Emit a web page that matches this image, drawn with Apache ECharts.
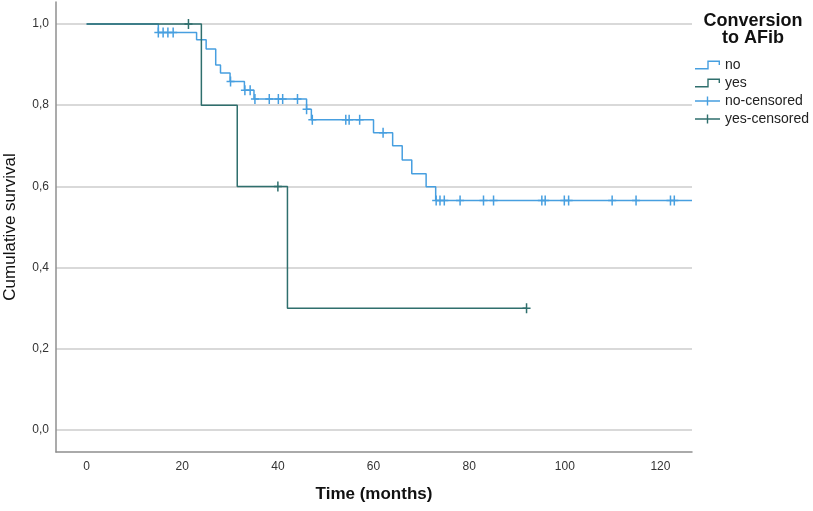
<!DOCTYPE html>
<html>
<head>
<meta charset="utf-8">
<script src="https://cdn.jsdelivr.net/npm/echarts@6/dist/echarts.min.js"></script>
<style>
html,body{margin:0;padding:0;background:#fff;}
#chart{width:813px;height:511px;}
</style>
</head>
<body>
<div id="chart"></div>
<script>
// ---- data ----
const xTicks = [0, 20, 40, 60, 80, 100, 120];
const yTicks = [0, 0.2, 0.4, 0.6, 0.8, 1.0];

// Group "no": step points (time, cumulative survival)
const noTimes = [0, 15, 23, 25, 27, 28, 30, 33, 35, 46, 47, 60, 64, 66, 68, 71, 73, 126.6];
const noSurv  = [1.000, 0.979, 0.961, 0.938, 0.899, 0.879, 0.858, 0.837, 0.815, 0.790, 0.764, 0.732, 0.700, 0.665, 0.631, 0.599, 0.565, 0.565];

// Group "yes"
const yesTimes = [0, 24, 31.5, 42, 92];
const yesSurv  = [1.0, 0.8, 0.6, 0.3, 0.3];

// Censored observations
const noCensT = [15.0, 16.0, 17.0, 18.1, 30.1, 33.1, 34.2, 35.2, 38.2, 40.1, 41.0, 44.1, 46.0, 47.2, 54.2, 54.9, 57.1, 62.0,
                 73.1, 73.9, 74.8, 78.1, 83.0, 85.1, 95.2, 95.9, 99.9, 100.8, 109.9, 114.9, 122.1, 122.9];
const noCensS = [0.979, 0.979, 0.979, 0.979, 0.858, 0.837, 0.837, 0.815, 0.815, 0.815, 0.815, 0.815, 0.790, 0.764, 0.764, 0.764, 0.764, 0.732,
                 0.565, 0.565, 0.565, 0.565, 0.565, 0.565, 0.565, 0.565, 0.565, 0.565, 0.565, 0.565, 0.565, 0.565];
const yesCensT = [21.3, 40.0, 92.0];
const yesCensS = [1.0, 0.6, 0.3];

const seriesNames = ['no', 'yes', 'no-censored', 'yes-censored'];
const legendTitle = 'Conversion\nto AFib';

// ---- styling ----
const colNo = '#479fe0';
const colYes = '#2f6f6d';
const FONT = '"Liberation Sans", Arial, sans-serif';
const plusSym = 'path://M3.25,0 h1.5 v4.25 h3.25 v1.5 h-3.25 v4.25 h-1.5 v-4.25 h-3.25 v-1.5 h3.25 z';
const stepIcon = 'path://M0,7.6 L12.3,7.6 L12.3,0 L25,0 L25,4.5 L23.6,4.5 L23.6,1.4 L13.7,1.4 L13.7,9 L0,9 Z';
const plusIcon = 'path://M0,3.8 L11.8,3.8 L11.8,0 L13.2,0 L13.2,3.8 L25,3.8 L25,5.2 L13.2,5.2 L13.2,9 L11.8,9 L11.8,5.2 L0,5.2 Z';

const zip = (a, b) => a.map((v, i) => [v, b[i]]);
const fmt = v => v.toFixed(1).replace('.', ',');

const chart = echarts.init(document.getElementById('chart'), null, {renderer: 'canvas'});
chart.setOption({
  animation: false,
  backgroundColor: '#ffffff',
  textStyle: {fontFamily: FONT},
  title: {
    text: legendTitle,
    left: 748, top: 8, textAlign: 'center',
    textStyle: {fontFamily: FONT, fontSize: 18, fontWeight: 'bold', color: '#111', lineHeight: 17}
  },
  legend: {
    orient: 'vertical', left: 695, top: 58, padding: 0,
    itemWidth: 25, itemHeight: 9, itemGap: 4,
    textStyle: {fontFamily: FONT, fontSize: 14, color: '#222', lineHeight: 14},
    data: [
      {name: seriesNames[0], icon: stepIcon},
      {name: seriesNames[1], icon: stepIcon},
      {name: seriesNames[2], icon: plusIcon},
      {name: seriesNames[3], icon: plusIcon}
    ]
  },
  grid: {left: 56, right: 121, top: 2, bottom: 59, containLabel: false, outerBoundsMode: 'none'},
  xAxis: {
    type: 'value', min: -6.4, max: 126.6,
    name: 'Time (months)', nameLocation: 'middle', nameGap: 34,
    nameTextStyle: {fontFamily: FONT, fontSize: 17, fontWeight: 'bold', color: '#111'},
    axisLine: {onZero: false, lineStyle: {color: '#8f8f8f', width: 1.5}},
    axisTick: {show: false, customValues: xTicks},
    axisLabel: {customValues: xTicks, margin: 9, fontFamily: FONT, fontSize: 12, color: '#333'},
    splitLine: {show: false}
  },
  yAxis: {
    type: 'value', min: -0.054, max: 1.054,
    name: 'Cumulative survival', nameLocation: 'middle', nameGap: 37,
    nameTextStyle: {fontFamily: FONT, fontSize: 17, color: '#111'},
    axisLine: {onZero: false, show: true, lineStyle: {color: '#8f8f8f', width: 1.5}},
    axisTick: {show: false, customValues: yTicks},
    axisLabel: {customValues: yTicks, margin: 7, fontFamily: FONT, fontSize: 12, color: '#333', formatter: fmt},
    splitLine: {show: true, lineStyle: {color: '#cdcdcd', width: 1.5}}
  },
  series: [
    {name: seriesNames[0], type: 'line', step: 'end', data: zip(noTimes, noSurv), showSymbol: false, symbol: 'none',
     itemStyle: {color: colNo}, lineStyle: {color: colNo, width: 1.5}, z: 2},
    {name: seriesNames[1], type: 'line', step: 'end', data: zip(yesTimes, yesSurv), showSymbol: false, symbol: 'none',
     itemStyle: {color: colYes}, lineStyle: {color: colYes, width: 1.5}, z: 3},
    {name: seriesNames[2], type: 'scatter', data: zip(noCensT, noCensS), symbol: plusSym, symbolSize: [8, 10],
     itemStyle: {color: colNo, opacity: 1}, z: 4},
    {name: seriesNames[3], type: 'scatter', data: zip(yesCensT, yesCensS), symbol: plusSym, symbolSize: [8, 10],
     itemStyle: {color: colYes, opacity: 1}, z: 5}
  ]
});
</script>
</body>
</html>
